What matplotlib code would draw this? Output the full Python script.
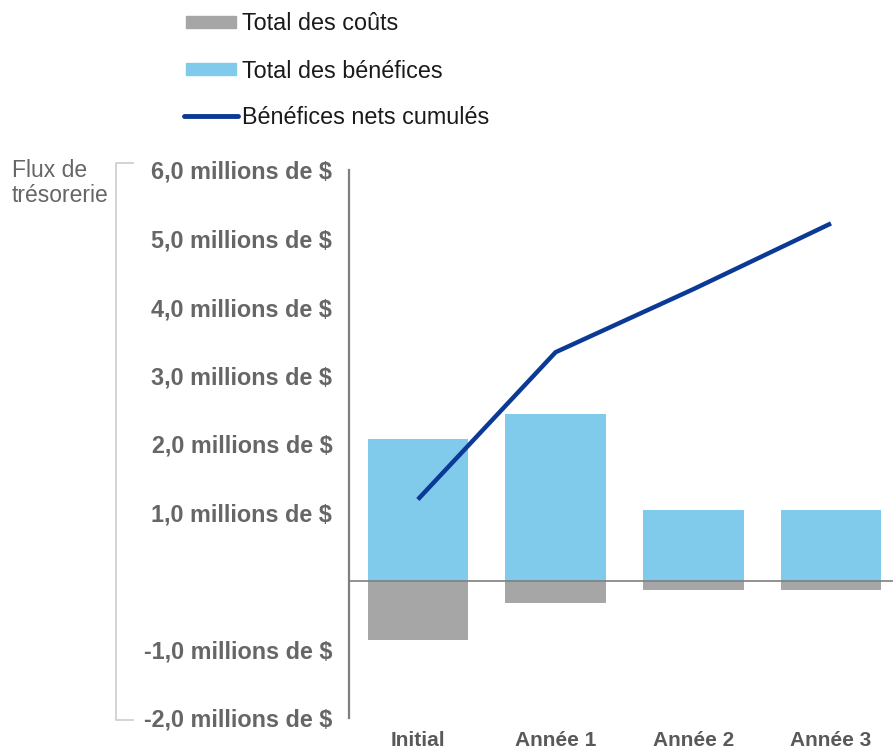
import matplotlib.pyplot as plt
from matplotlib.lines import Line2D
from matplotlib.patches import Rectangle

# data (millions de $)
categories = ["Initial", "Année 1", "Année 2", "Année 3"]
benefits = [2.07, 2.44, 1.04, 1.04]
costs = [-0.86, -0.32, -0.13, -0.13]
cumulative = [1.19, 3.34, 4.26, 5.22]
yticks = [6, 5, 4, 3, 2, 1, -1, -2]
ytick_labels = ["6,0 millions de $", "5,0 millions de $", "4,0 millions de $",
                "3,0 millions de $", "2,0 millions de $", "1,0 millions de $",
                "-1,0 millions de $", "-2,0 millions de $"]
legend_labels = ["Total des coûts", "Total des bénéfices", "Bénéfices nets cumulés"]

plt.rcParams['font.family'] = ['Liberation Sans', 'DejaVu Sans']

c_cost = '#A6A6A6'
c_benef = '#80CBEB'
c_line = '#0B3A96'
c_text = '#666666'

W, H = 893, 752
fig = plt.figure(figsize=(W / 100, H / 100), dpi=100)
ax = fig.add_axes([349 / W, 1 - 718 / H, 1 - 349 / W, 548 / H])

x = list(range(len(categories)))
ax.bar(x, benefits, width=0.73, color=c_benef, zorder=2)
ax.bar(x, costs, width=0.73, color=c_cost, zorder=2)
ax.plot(x, cumulative, color=c_line, lw=3.2, zorder=4, solid_capstyle='butt')
ax.axhline(0, color='#7F7F7F', lw=1.2, zorder=3)

ax.set_xlim(-0.5, 3.45)
ax.set_ylim(-2, 6)
ax.set_yticks(yticks)
ax.set_yticklabels(ytick_labels, fontsize=16.8, fontweight='bold', color=c_text)
ax.set_xticks(x)
ax.set_xticklabels(categories, fontsize=15, fontweight='bold', color='#595959')
ax.tick_params(axis='y', length=0, pad=12)
ax.tick_params(axis='x', length=0, pad=9)

for s in ['top', 'right', 'bottom']:
    ax.spines[s].set_visible(False)
ax.spines['left'].set_color('#7F7F7F')
ax.spines['left'].set_linewidth(1.6)

# y axis title with bracket
fig.text(12 / W, 1 - 183 / H, "Flux de\ntrésorerie", fontsize=16.5, color=c_text,
         ha='left', va='center', linespacing=1.08)
bx0, bx1, by0, by1 = 116 / W, 133 / W, 1 - 163 / H, 1 - 720 / H
fig.add_artist(Line2D([bx1, bx0, bx0, bx1], [by0, by0, by1, by1],
                      color='#D0D0D0', lw=1.3, transform=fig.transFigure))

# legend drawn by hand
leg_y = [22, 69, 116]
for i, (lab, yy) in enumerate(zip(legend_labels, leg_y)):
    yf = 1 - yy / H
    if i < 2:
        col = c_cost if i == 0 else c_benef
        fig.add_artist(Rectangle((186 / W, yf - 6 / H), 50 / W, 12 / H,
                                 color=col, transform=fig.transFigure))
    else:
        fig.add_artist(Line2D([184 / W, 238 / W], [yf, yf], color=c_line, lw=3.5,
                              solid_capstyle='round', transform=fig.transFigure))
    fig.text(242 / W, yf - 2 / H, lab, fontsize=16.8, color='#1A1A1A', ha='left', va='center')

fig.savefig('out.png', dpi=100)
